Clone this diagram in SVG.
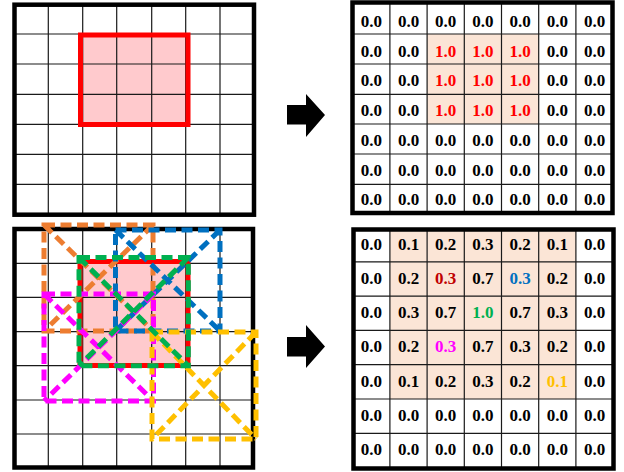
<svg xmlns="http://www.w3.org/2000/svg" width="624" height="472" viewBox="0 0 624 472">
<style>
.bg{fill:#ffffff}
.grid{stroke:#1a1a1a;stroke-width:1.2;fill:none}
.frame{stroke:#000;stroke-width:4.5;fill:none}
.pink{fill:#FFCACD}
.peach{fill:#FBE5D6}
.redbox{fill:none;stroke:#FF0000;stroke-width:5}
.dash{fill:none;stroke-width:5;stroke-dasharray:11 5.5}
.or{stroke:#ED7D31}.bl{stroke:#0070C0}.gr{stroke:#00B050}.mg{stroke:#FF00FF}.yl{stroke:#FFC000}
text{font-family:"Liberation Serif","Times New Roman",serif;font-weight:bold;font-size:17px;text-anchor:middle;fill:#000}
.tr{fill:#FF0000}.tdr{fill:#C00000}.tbl{fill:#0070C0}.tgr{fill:#00B050}.tmg{fill:#FF00FF}.tyl{fill:#FFC000}
.arrow{fill:#000}
</style>
<rect class="bg" x="0" y="0" width="624" height="472"/>

<g id="grid-top">
<rect class="pink" x="80.5" y="35" width="107.5" height="89.5"/>
<path class="grid" d="M48.3 4.7V214.7M82.7 4.7V214.7M116.7 4.7V214.7M151.7 4.7V214.7M185.7 4.7V214.7M220 4.7V214.7M14.5 34H254M14.5 64H254M14.5 94.3H254M14.5 124.3H254M14.5 154.3H254M14.5 184.3H254"/>
<rect class="redbox" x="80.5" y="35" width="107.5" height="89.5"/>
<rect class="frame" x="14.5" y="4.7" width="239.5" height="210"/>
</g>

<g id="table-top">
<rect class="peach" x="427.1" y="34" width="111.6" height="90"/>
<path class="grid" d="M389.9 2.5V213M427.1 2.5V213M464.3 2.5V213M501.5 2.5V213M538.7 2.5V213M575.9 2.5V213M352.5 34H612.5M352.5 64H612.5M352.5 94.3H612.5M352.5 124H612.5M352.5 154H612.5M352.5 184.3H612.5"/>
<rect class="frame" x="352.5" y="2.5" width="260" height="210.5"/>
<g>
<text x="371.3" y="27">0.0</text><text x="408.5" y="27">0.0</text><text x="445.7" y="27">0.0</text><text x="482.9" y="27">0.0</text><text x="520.1" y="27">0.0</text><text x="557.3" y="27">0.0</text><text x="594.5" y="27">0.0</text>
<text x="371.3" y="56.7">0.0</text><text x="408.5" y="56.7">0.0</text><text class="tr" x="445.7" y="56.7">1.0</text><text class="tr" x="482.9" y="56.7">1.0</text><text class="tr" x="520.1" y="56.7">1.0</text><text x="557.3" y="56.7">0.0</text><text x="594.5" y="56.7">0.0</text>
<text x="371.3" y="86.4">0.0</text><text x="408.5" y="86.4">0.0</text><text class="tr" x="445.7" y="86.4">1.0</text><text class="tr" x="482.9" y="86.4">1.0</text><text class="tr" x="520.1" y="86.4">1.0</text><text x="557.3" y="86.4">0.0</text><text x="594.5" y="86.4">0.0</text>
<text x="371.3" y="116.1">0.0</text><text x="408.5" y="116.1">0.0</text><text class="tr" x="445.7" y="116.1">1.0</text><text class="tr" x="482.9" y="116.1">1.0</text><text class="tr" x="520.1" y="116.1">1.0</text><text x="557.3" y="116.1">0.0</text><text x="594.5" y="116.1">0.0</text>
<text x="371.3" y="145.8">0.0</text><text x="408.5" y="145.8">0.0</text><text x="445.7" y="145.8">0.0</text><text x="482.9" y="145.8">0.0</text><text x="520.1" y="145.8">0.0</text><text x="557.3" y="145.8">0.0</text><text x="594.5" y="145.8">0.0</text>
<text x="371.3" y="175.5">0.0</text><text x="408.5" y="175.5">0.0</text><text x="445.7" y="175.5">0.0</text><text x="482.9" y="175.5">0.0</text><text x="520.1" y="175.5">0.0</text><text x="557.3" y="175.5">0.0</text><text x="594.5" y="175.5">0.0</text>
<text x="371.3" y="205.2">0.0</text><text x="408.5" y="205.2">0.0</text><text x="445.7" y="205.2">0.0</text><text x="482.9" y="205.2">0.0</text><text x="520.1" y="205.2">0.0</text><text x="557.3" y="205.2">0.0</text><text x="594.5" y="205.2">0.0</text>
</g>
</g>

<g id="grid-bottom">
<rect class="pink" x="80" y="261.5" width="108" height="104"/>
<path class="grid" d="M48.3 229V467.5M82.7 229V467.5M116.7 229V467.5M151.7 229V467.5M185.7 229V467.5M220 229V467.5M14.5 263.3H253M14.5 297.3H253M14.5 331.7H253M14.5 365.7H253M14.5 400H253M14.5 434H253"/>
<rect class="redbox" x="80" y="261.5" width="108" height="104"/>
<rect class="frame" x="14.5" y="229" width="238.5" height="238.5"/>
<g id="win-orange"><path class="dash or" d="M44 225H153V331H44ZM44 225L153 331M153 225L44 331"/></g>
<g id="win-blue"><path class="dash bl" d="M115.5 230H220V331H115.5ZM115.5 230L220 331M220 230L115.5 331"/></g>
<g id="win-magenta"><path class="dash mg" d="M44 294H153.5V401H44ZM44 294L153.5 401M153.5 294L44 401"/></g>
<g id="win-yellow"><path class="dash yl" d="M152 332H256V439H152ZM152 332L256 439M256 332L152 439"/></g>
<g id="win-green"><path class="dash gr" d="M79 257.5H188.3V365.8H79ZM79 257.5L188.3 365.8M188.3 257.5L79 365.8"/></g>
</g>

<g id="table-bottom">
<rect class="peach" x="389.9" y="229.5" width="186" height="169.5"/>
<path class="grid" d="M389.9 229.5V468.5M427.1 229.5V468.5M464.3 229.5V468.5M501.5 229.5V468.5M538.7 229.5V468.5M575.9 229.5V468.5M353.5 261.8H613.5M353.5 296.1H613.5M353.5 330.4H613.5M353.5 364.7H613.5M353.5 399H613.5M353.5 433.3H613.5"/>
<rect class="frame" x="353.5" y="229.5" width="260" height="239"/>
<g>
<text x="371.3" y="249.5">0.0</text><text x="408.5" y="249.5">0.1</text><text x="445.7" y="249.5">0.2</text><text x="482.9" y="249.5">0.3</text><text x="520.1" y="249.5">0.2</text><text x="557.3" y="249.5">0.1</text><text x="594.5" y="249.5">0.0</text>
<text x="371.3" y="283.8">0.0</text><text x="408.5" y="283.8">0.2</text><text class="tdr" x="445.7" y="283.8">0.3</text><text x="482.9" y="283.8">0.7</text><text class="tbl" x="520.1" y="283.8">0.3</text><text x="557.3" y="283.8">0.2</text><text x="594.5" y="283.8">0.0</text>
<text x="371.3" y="318.1">0.0</text><text x="408.5" y="318.1">0.3</text><text x="445.7" y="318.1">0.7</text><text class="tgr" x="482.9" y="318.1">1.0</text><text x="520.1" y="318.1">0.7</text><text x="557.3" y="318.1">0.3</text><text x="594.5" y="318.1">0.0</text>
<text x="371.3" y="352.4">0.0</text><text x="408.5" y="352.4">0.2</text><text class="tmg" x="445.7" y="352.4">0.3</text><text x="482.9" y="352.4">0.7</text><text x="520.1" y="352.4">0.3</text><text x="557.3" y="352.4">0.2</text><text x="594.5" y="352.4">0.0</text>
<text x="371.3" y="386.7">0.0</text><text x="408.5" y="386.7">0.1</text><text x="445.7" y="386.7">0.2</text><text x="482.9" y="386.7">0.3</text><text x="520.1" y="386.7">0.2</text><text class="tyl" x="557.3" y="386.7">0.1</text><text x="594.5" y="386.7">0.0</text>
<text x="371.3" y="421">0.0</text><text x="408.5" y="421">0.0</text><text x="445.7" y="421">0.0</text><text x="482.9" y="421">0.0</text><text x="520.1" y="421">0.0</text><text x="557.3" y="421">0.0</text><text x="594.5" y="421">0.0</text>
<text x="371.3" y="455.3">0.0</text><text x="408.5" y="455.3">0.0</text><text x="445.7" y="455.3">0.0</text><text x="482.9" y="455.3">0.0</text><text x="520.1" y="455.3">0.0</text><text x="557.3" y="455.3">0.0</text><text x="594.5" y="455.3">0.0</text>
</g>
</g>

<g id="connectors">
<polygon class="arrow" points="287,105 306,105 306,94 325,115 306,137 306,124.5 287,124.5"/>
<polygon class="arrow" points="287,337 306,337 306,325 325,346.5 306,368 306,356.5 287,356.5"/>
</g>
</svg>
